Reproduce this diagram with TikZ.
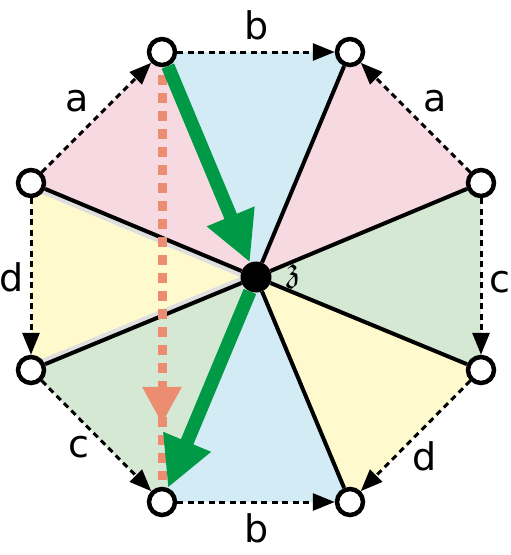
\RequirePackage{fix-cm}
\documentclass[tikz,border=0pt]{standalone}
\usepackage{amssymb}
\usepackage{fontspec}
\setsansfont{DejaVu Sans}
\usetikzlibrary{arrows.meta,decorations.markings}
\definecolor{sectorpink}{RGB}{247,217,225}
\definecolor{sectorblue}{RGB}{210,235,245}
\definecolor{sectorgreen}{RGB}{213,232,212}
\definecolor{sectoryellow}{RGB}{255,250,205}
\definecolor{routegreen}{RGB}{0,154,70}
\definecolor{traceorange}{RGB}{236,140,112}
\pgfdeclarelayer{bg}
\pgfsetlayers{bg,main}

\begin{document}
\begin{tikzpicture}[x=1pt, y=-1pt,
  vert/.style={circle, draw=black, fill=white, line width=4.5pt,
    minimum size=26pt, inner sep=0pt},
  hub/.style={circle, fill=black, minimum size=31pt, inner sep=0pt},
  spoke/.style={line width=4pt, black},
  glue/.style={-{Triangle[length=22pt, width=17pt]}, line width=3pt,
    dash pattern=on 6pt off 4.5pt},
  lbl/.style={font=\sffamily\fontsize{38}{40}\selectfont, text height=29pt,
    text depth=0pt, inner sep=0pt},
  route/.style={-{Triangle[length=50pt, width=48pt]}, line width=13.5pt, routegreen},
  trace/.style={line width=9pt, traceorange, dash pattern=on 10pt off 8pt,
    shorten <=8pt, shorten >=7pt,
    postaction={decorate, decoration={markings,
      mark=at position 0.85 with {\arrow{Triangle[length=37pt, width=37pt]}}}}},
  halo/.style={line width=12pt, gray!25},
]
  \useasboundingbox (0,0) rectangle (511,555);

  \node[vert] (tl) at (162,52) {};
  \node[vert] (tr) at (350,52) {};
  \node[vert] (ru) at (481,183) {};
  \node[vert] (rl) at (481,370) {};
  \node[vert] (br) at (350,502) {};
  \node[vert] (bl) at (162,502) {};
  \node[vert] (ll) at (31,370) {};
  \node[vert] (lu) at (31,183) {};
  \node[hub] (z) at (256,277) {};
  \node[inner sep=0pt] (zlabel) at (293.5,276) {\scalebox{3.6}{$\mathfrak{z}$}};

  \begin{pgfonlayer}{bg}
    \fill[sectorblue] (z.center) -- (tl.center) -- (tr.center) -- cycle;
    \fill[sectorpink] (z.center) -- (tr.center) -- (ru.center) -- cycle;
    \fill[sectorgreen] (z.center) -- (ru.center) -- (rl.center) -- cycle;
    \fill[sectoryellow] (z.center) -- (rl.center) -- (br.center) -- cycle;
    \fill[sectorblue] (z.center) -- (br.center) -- (bl.center) -- cycle;
    \fill[sectorgreen] (z.center) -- (bl.center) -- (ll.center) -- cycle;
    \fill[sectoryellow] (z.center) -- (ll.center) -- (lu.center) -- cycle;
    \fill[sectorpink] (z.center) -- (lu.center) -- (tl.center) -- cycle;
    \begin{scope}
      \clip (z.center) -- (ll.center) -- (lu.center) -- cycle;
      \draw[halo] (lu.center) -- (z.center) (ll.center) -- (z.center);
    \end{scope}
  \end{pgfonlayer}

  \draw[spoke] (z) -- (tr);
  \draw[spoke] (z) -- (ru);
  \draw[spoke] (z) -- (rl);
  \draw[spoke] (z) -- (br);
  \draw[spoke] (z) -- (ll);
  \draw[spoke] (z) -- (lu);

  \draw[trace] (tl) -- (bl);
  \draw[route] (tl) -- (z);
  \draw[route] (z) -- (bl);

  \draw[glue] (lu) -- node[lbl, xshift=-19pt, yshift=21pt] {a} (tl);
  \draw[glue] (tl) -- node[lbl, xshift=1pt, yshift=27.5pt] {b} (tr);
  \draw[glue] (ru) -- node[lbl, xshift=19.5pt, yshift=21pt] {a} (tr);
  \draw[glue] (lu) -- node[lbl, xshift=-19pt] {d} (ll);
  \draw[glue] (ru) -- node[lbl, xshift=18.5pt, yshift=-1pt] {c} (rl);
  \draw[glue] (ll) -- node[lbl, xshift=-18pt, yshift=-6.5pt] {c} (bl);
  \draw[glue] (bl) -- node[lbl, xshift=1pt, yshift=-25.5pt] {b} (br);
  \draw[glue] (rl) -- node[lbl, xshift=9pt, yshift=-19.5pt] {d} (br);
\end{tikzpicture}
\end{document}
